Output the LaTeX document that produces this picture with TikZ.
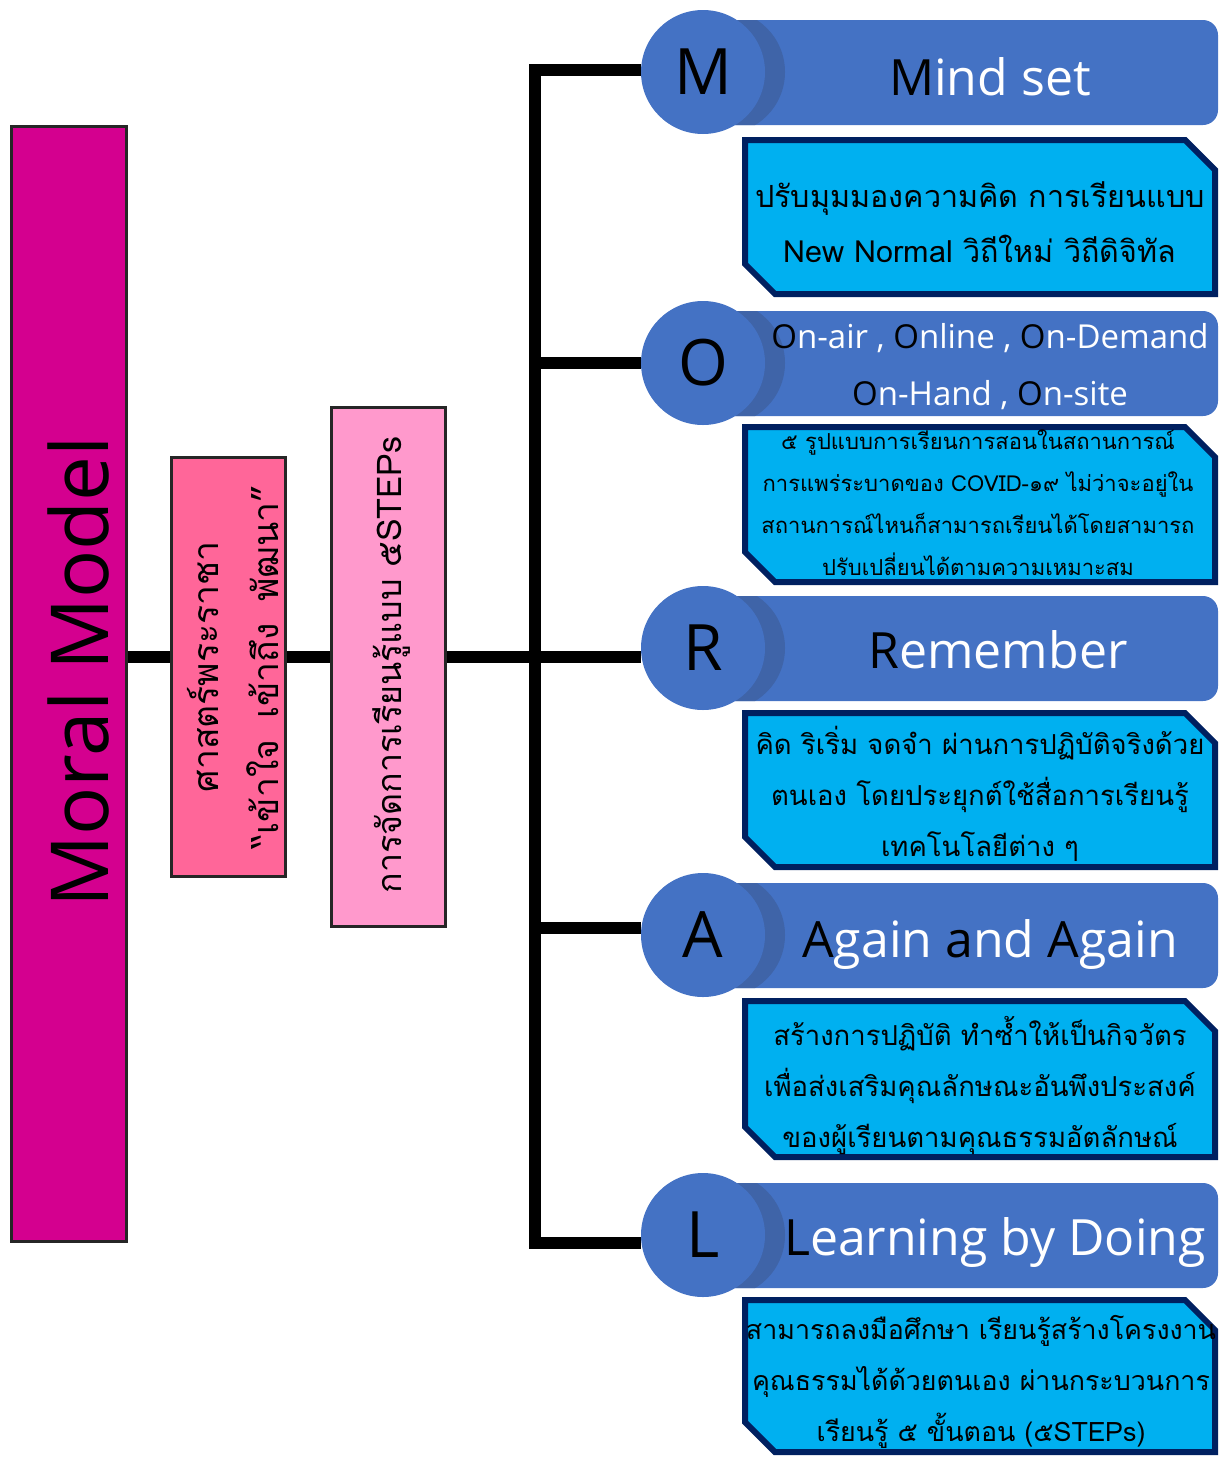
\documentclass[tikz,border=0pt]{standalone}
\usepackage{fontspec}
\setmainfont{Open Sans}
\newfontfamily\thaifont[Script=Thai]{Loma}
\definecolor{moralmag}{HTML}{D4008F}
\definecolor{rajapink}{HTML}{FF6699}
\definecolor{stepspink}{HTML}{FF99CC}
\definecolor{barblue}{HTML}{4472C4}
\definecolor{barshade}{HTML}{3F64A8}
\definecolor{boxcyan}{HTML}{00B0F0}
\definecolor{boxnavy}{HTML}{002060}
\begin{document}
\begin{tikzpicture}[x=1pt,y=-1pt,line cap=butt,line join=miter]
	\tikzset{pinkbox/.style={draw=black!85,line width=2.5pt,inner sep=0pt},
		conn/.style={line width=12pt},
		bar/.style={fill=barblue,rounded corners=15pt},
		letter/.style={circle,fill=barblue,minimum size=124pt,inner sep=0pt,font=\fontsize{64}{70}\selectfont},
		head/.style={anchor=base,text=white,font=\fontsize{50}{60}\selectfont},
		tbox/.style={fill=boxcyan,draw=boxnavy,line width=6pt},
		ttext/.style={align=center,font=\thaifont\fontsize{27.5}{51}\selectfont},
		vtext/.style={rotate=90,align=center,font=\thaifont\fontsize{34}{60}\selectfont}}
	\useasboundingbox (0,0) rectangle (1220,1457);
	%--------- left boxes
	\node[pinkbox,fill=moralmag,minimum width=115,minimum height=1115] (moral) at (69,684) {};
	\node[rotate=90,font=\fontsize{80}{90}\selectfont] (moralT) at (78,672) {Moral Model};
	\node[pinkbox,fill=rajapink,minimum width=114,minimum height=419] (raja) at (228.5,667) {};
	\node[vtext,font=\thaifont\fontsize{35.5}{60}\selectfont] (rajaT) at (233,667) {ศาสตร์พระราชา\\“เข้าใจ\hspace{.6em}เข้าถึง\hspace{.6em}พัฒนา”};
	\node[pinkbox,fill=stepspink,minimum width=114,minimum height=519] (steps) at (388.5,667) {};
	\node[vtext] (stepsT) at (392,665) {การจัดการเรียนรู้แบบ ๕STEPs};
	%--------- bars and letters
	\foreach \n/\y in {M/72,O/363,R/648,A/935,L/1235}{
		\fill[bar] (720,\y-52) rectangle (1218,\y+53);
		\begin{scope}
			\clip[rounded corners=15pt] (720,\y-52) rectangle (1218,\y+53);
			\fill[barshade] (723,\y) circle (62pt);
		\end{scope}
		\node[letter] (c\n) at (703,\y) {\n};
	}
	%--------- text boxes
	\foreach \t/\b in {137/297,424/585,710/870,998/1160,1297/1455}
		\draw[tbox] (745,\t+3) -- (1185,\t+3) -- (1215,\t+33) -- (1215,\b-3) -- (775,\b-3) -- (745,\b-33) -- cycle;
	%--------- titles
	\node[head] (hM) at (990,95) {\textcolor{black}{M}ind set};
	\node[head,align=center,font=\fontsize{33}{57}\selectfont] (hO) at (990,405) {\textcolor{black}{O}n-air , \textcolor{black}{O}nline , \textcolor{black}{O}n-Demand\\\textcolor{black}{O}n-Hand , \textcolor{black}{O}n-site};
	\node[head] (hR) at (998,668) {\textcolor{black}{R}emember};
	\node[head] (hA) at (990,957) {\textcolor{black}{A}gain \textcolor{black}{a}nd \textcolor{black}{A}gain};
	\node[head] (hL) at (995,1255) {\textcolor{black}{L}earning by Doing};
	%--------- details
	\node[ttext,font=\thaifont\fontsize{30.5}{55}\selectfont] (dM) at (980,222) {ปรับมุมมองความคิด การเรียนแบบ\\New Normal วิถีใหม่ วิถีดิจิทัล};
	\node[ttext,font=\thaifont\fontsize{22}{42}\selectfont] (dO) at (978,503) {๕ รูปแบบการเรียนการสอนในสถานการณ์\\การแพร่ระบาดของ COVID-๑๙ ไม่ว่าจะอยู่ใน\\สถานการณ์ไหนก็สามารถเรียนได้โดยสามารถ\\ปรับเปลี่ยนได้ตามความเหมาะสม};
	\node[ttext] (dR) at (980,794) {คิด ริเริ่ม จดจำ ผ่านการปฏิบัติจริงด้วย\\ตนเอง โดยประยุกต์ใช้สื่อการเรียนรู้\\เทคโนโลยีต่าง ๆ};
	\node[ttext] (dA) at (980,1086) {สร้างการปฏิบัติ ทำซ้ำให้เป็นกิจวัตร\\เพื่อส่งเสริมคุณลักษณะอันพึงประสงค์\\ของผู้เรียนตามคุณธรรมอัตลักษณ์};
	\node[ttext,font=\thaifont\fontsize{26.8}{51}\selectfont] (dL) at (981,1382) {สามารถลงมือศึกษา เรียนรู้สร้างโครงงาน\\คุณธรรมได้ด้วยตนเอง ผ่านกระบวนการ\\เรียนรู้ ๕ ขั้นตอน (๕STEPs)};
	%--------- connectors
	\coordinate (jM) at (535,70);
	\coordinate (jO) at (535,363);
	\coordinate (jR) at (535,657);
	\coordinate (jA) at (535,928);
	\coordinate (jL) at (535,1243);
	\draw[conn] (jM -| cM.west) -- (jM) -- (jL) -- (jL -| cL.west);
	\foreach \n in {O,A} \draw[conn] (j\n) -- (j\n -| c\n.west);
	\draw[conn] (moral.east |- jR) -- (raja.west |- jR);
	\draw[conn] (raja.east |- jR) -- (steps.west |- jR);
	\draw[conn] (steps.east |- jR) -- (jR -| cR.west);
\end{tikzpicture}
\end{document}
